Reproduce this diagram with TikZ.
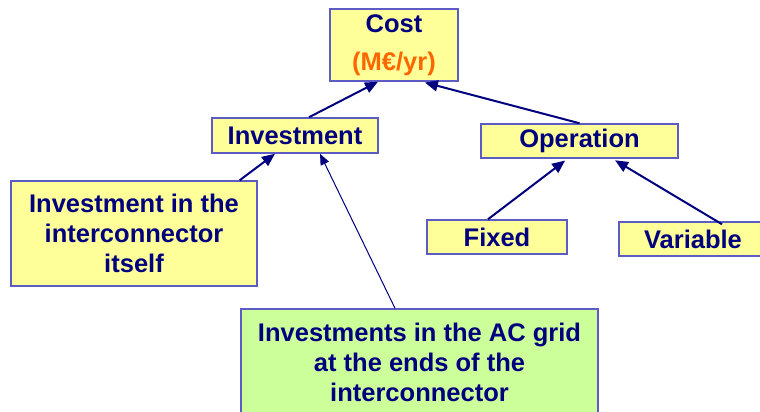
\documentclass[tikz,border=0pt]{standalone}
\usepackage{fontspec}
\setmainfont{Liberation Sans}
\usepackage{xcolor}
\usepackage{tikz}
\usetikzlibrary{arrows.meta}
\definecolor{boxyellow}{HTML}{FFFF99}
\definecolor{boxgreen}{HTML}{CCFF99}
\definecolor{boxborder}{HTML}{5C5CC4}
\definecolor{navytext}{HTML}{00007F}
\definecolor{unitorange}{HTML}{FF6600}
\tikzset{
  costbox/.style={fill=boxyellow, draw=boxborder, line width=1.5pt, inner sep=0pt,
    align=center, text=navytext, font=\bfseries\fontsize{25.5}{30}\selectfont},
  greenbox/.style={costbox, fill=boxgreen},
  feeds/.style={draw=navytext, line width=2pt, -{Triangle[length=13pt,width=11pt]}},
  thinfeed/.style={draw=navytext, line width=1pt, -{Triangle[length=11pt,width=9pt]}}
}

\begin{document}
\begin{tikzpicture}[x=1pt, y=-1pt]
    \useasboundingbox[fill=white] (0,0) rectangle (760,412);
    \node[costbox, minimum width=128pt, minimum height=72pt] (cost) at (394,45)
      {Cost\\[8pt]{\color{unitorange}(M€/yr)}};
    \node[costbox, minimum width=166pt, minimum height=35pt] (invest) at (295,135.5) {Investment};
    \node[costbox, minimum width=197pt, minimum height=34pt] (oper) at (579.5,141) {Operation};
    \node[costbox, minimum width=140pt, minimum height=34pt] (fixed) at (497,237) {Fixed};
    \node[costbox, minimum width=148pt, minimum height=34pt] (var) at (693,239) {Variable};
    \node[costbox, minimum width=246pt, minimum height=105pt] (itself) at (134,233.5)
      {Investment in the\\interconnector\\itself};
    \node[greenbox, minimum width=357pt, minimum height=106pt] (acgrid) at (419.5,362)
      {Investments in the AC grid\\at the ends of the\\interconnector};
    % arrows up the tree
    \draw[feeds] ([xshift=14pt]invest.north) -- ([xshift=-16pt]cost.south);
    \draw[feeds, shorten >=3pt] (oper.north) -- ([xshift=28pt]cost.south);
    \draw[feeds, shorten >=3pt] ([xshift=-9pt]fixed.north) -- ([xshift=-12pt]oper.south);
    \draw[feeds, shorten >=3pt] ([xshift=29pt,yshift=-3pt]var.north) -- ([xshift=33pt]oper.south);
    \draw[feeds] ([xshift=-18pt]itself.north east) -- ([xshift=-20pt]invest.south);
    \draw[thinfeed] ([xshift=-24.5pt]acgrid.north) -- ([xshift=25pt]invest.south);
  \end{tikzpicture}
\end{document}
